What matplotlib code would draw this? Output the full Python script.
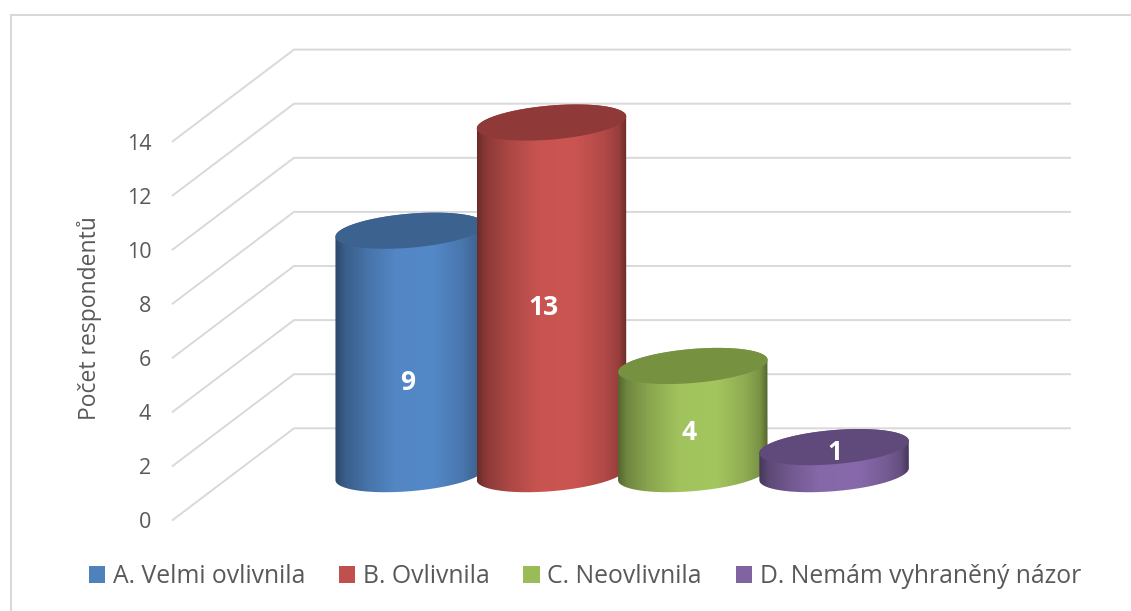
import matplotlib
matplotlib.use('Agg')
import matplotlib.pyplot as plt
import numpy as np
from matplotlib.colors import to_rgb
from matplotlib.patches import Patch, PathPatch, Polygon
from matplotlib.path import Path

# data
categories = ['A. Velmi ovlivnila', 'B. Ovlivnila', 'C. Neovlivnila', 'D. Nemám vyhraněný názor']
values = [9, 13, 4, 1]
colors = ['#4f81bd', '#c0504d', '#9bbb59', '#8064a2']
top_colors = ['#3c628f', '#8f3a38', '#76913f', '#604a7b']
y_ticks = [0, 2, 4, 6, 8, 10, 12, 14]
y_title = 'Počet respondentů'

# the reference is a fake 3d chart, so scales are worked out by hand
W, H = 1131, 611
PX_X = 141.3   # px per category
PX_Y = 27.05   # px per unit of value
X0_PX = 410.2  # px of first category
Y0_PX = 428.3  # px of value 0 on the back wall
DEPTH = 91.7 / PX_Y
grid_front = (172.7 - X0_PX) / PX_X
grid_back = (294 - X0_PX) / PX_X
grid_right = (1070 - X0_PX) / PX_X
x_min, x_max = -X0_PX / PX_X, (W - X0_PX) / PX_X
y_min, y_max = (Y0_PX - H) / PX_Y, Y0_PX / PX_Y

# cylinder ellipse, tilted
A_PX, B_PX = 75.0, 17.0
TILT = np.radians(4.85)

font = 'Open Sans'
text_col = '#595959'
grid_col = '#d9d9d9'

fig = plt.figure(figsize=(W / 100, H / 100), dpi=100, facecolor='white')
ax = fig.add_axes([0, 0, 1, 1])
ax.set_xlim(x_min, x_max)
ax.set_ylim(y_min, y_max)
ax.axis('off')

# outer frame, only top and left are in the crop
frame_x = x_min + 10.7 / PX_X
frame_y = y_max - 14.7 / PX_Y
ax.plot([frame_x, frame_x, x_max], [y_min, frame_y, frame_y], color=grid_col, lw=1.5,
        solid_joinstyle='miter', zorder=1)

# grid
for v in y_ticks:
    ax.plot([grid_front, grid_back, grid_right], [v - DEPTH, v, v], color=grid_col, lw=1.4,
            solid_joinstyle='miter', zorder=2)
    ax.text(grid_front - 21.5 / PX_X, v - DEPTH - 3 / PX_Y, str(v), ha='right', va='center', fontsize=15.5,
            color=text_col, family=font)

ax.text((90 - X0_PX) / PX_X, (Y0_PX - 318.5) / PX_Y, y_title, rotation=90, ha='center', va='center',
        fontsize=16.5, color=text_col, family=font)


def ellipse_pts(xc, yc, start=0, stop=2 * np.pi, n=120):
    t = np.linspace(start, stop, n)
    px = A_PX * np.cos(t) * np.cos(TILT) - B_PX * np.sin(t) * np.sin(TILT)
    py = A_PX * np.cos(t) * np.sin(TILT) + B_PX * np.sin(t) * np.cos(TILT)
    return np.column_stack([xc + px / PX_X, yc + py / PX_Y])


# where the ellipse reaches its left and right extremes
t_ext = np.arctan2(-B_PX * np.sin(TILT), A_PX * np.cos(TILT))
shade_x = [0, 0.06, 0.2, 0.4, 0.65, 0.85, 0.95, 1]
shade_k = [0.55, 0.72, 0.88, 1.04, 1.06, 0.92, 0.78, 0.55]
base = -DEPTH / 2

for i, (val, col, tcol) in enumerate(zip(values, colors, top_colors)):
    z = 5 + i
    # side of the cylinder: bottom half arc of the base, back along the top
    lower = ellipse_pts(i, base, t_ext + np.pi, t_ext + 2 * np.pi)
    upper = ellipse_pts(i, base + val, t_ext, t_ext + np.pi)
    outline = np.vstack([lower, upper, lower[:1]])
    clip = PathPatch(Path(outline), facecolor='none', edgecolor='none', transform=ax.transData)
    ax.add_patch(clip)
    # horizontal shading
    frac = np.linspace(0, 1, 200)
    k = np.interp(frac, shade_x, shade_k)
    grad = np.clip(np.outer(k, to_rgb(col)), 0, 1)[np.newaxis, :, :]
    half = np.max(np.abs(ellipse_pts(0, 0)[:, 0]))
    im = ax.imshow(grad, extent=[i - half, i + half, base - 1, base + val + 1], aspect='auto',
                   interpolation='bilinear', zorder=z)
    im.set_clip_path(clip)
    ax.add_patch(Polygon(ellipse_pts(i, base + val), closed=True, facecolor=tcol, edgecolor='none', zorder=z))

# reset limits, imshow changes them
ax.set_xlim(x_min, x_max)
ax.set_ylim(y_min, y_max)

# data labels
label_dx = [-3, -8, -4, 1]
label_dy = [-30, -9, -12, 8]
for i, val in enumerate(values):
    ax.text(i + label_dx[i] / PX_X, base + val / 2 + label_dy[i] / PX_Y, str(val), color='white',
            fontsize=19, fontweight='bold', ha='center', va='center', family=font, zorder=20)

handles = [Patch(facecolor=c, edgecolor='none') for c in colors]
leg = ax.legend(handles, categories, loc='center', bbox_to_anchor=(585 / W, 1 - 576.5 / H), ncol=4,
                frameon=False, prop={'family': font, 'size': 17.8}, labelcolor=text_col,
                handlelength=0.65, handleheight=0.65, handletextpad=0.32, columnspacing=1.36,
                borderpad=0, borderaxespad=0)
leg.set_zorder(30)

fig.savefig('out.png', dpi=100, facecolor='white')
